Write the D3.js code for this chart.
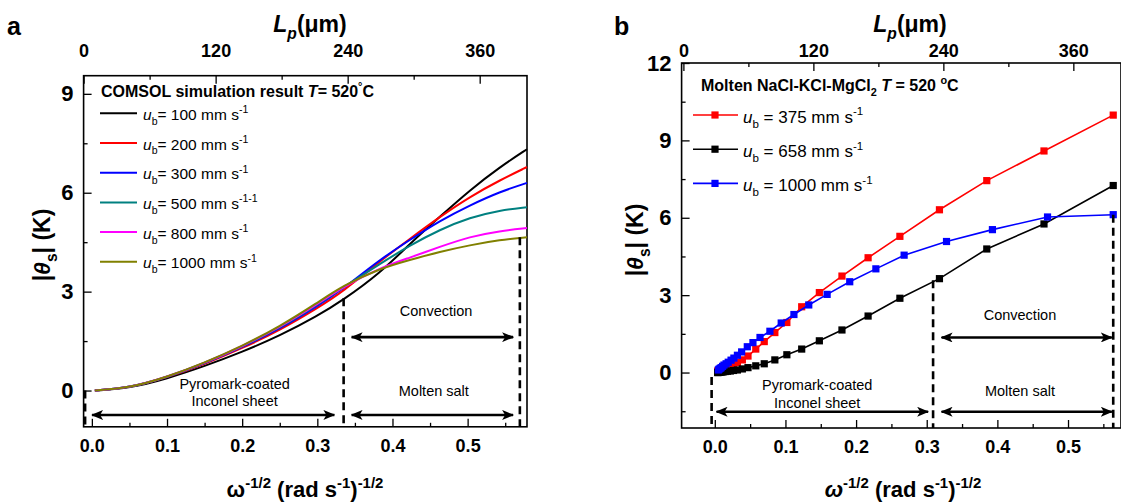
<!DOCTYPE html>
<html>
<head>
<meta charset="utf-8">
<script src="https://cdn.jsdelivr.net/npm/d3@7"></script>
<style>
  body { margin: 0; background: #fff; }
  svg { font-family: Arial, "Liberation Sans", sans-serif; }
</style>
</head>
<body>
<div id="chart"></div>
<script>
// ---- panel a : COMSOL curves ----
var aX     = [0.004, 0.05, 0.1, 0.15, 0.2, 0.25, 0.3, 0.334, 0.383, 0.423, 0.463, 0.503, 0.543, 0.579];
var ub100  = [0, 0.07, 0.36, 0.74, 1.17, 1.66, 2.26, 2.74, 3.55, 4.45, 5.27, 6.08, 6.78, 7.32];
var ub200  = [0, 0.08, 0.39, 0.8, 1.28, 1.83, 2.5, 3.0, 3.92, 4.6, 5.27, 5.88, 6.38, 6.78];
var ub300  = [0, 0.08, 0.4, 0.82, 1.31, 1.87, 2.56, 3.08, 3.97, 4.57, 5.15, 5.62, 6.03, 6.3];
var ub500  = [0, 0.08, 0.4, 0.83, 1.33, 1.9, 2.6, 3.12, 3.84, 4.4, 4.88, 5.25, 5.47, 5.56];
var ub800  = [0, 0.08, 0.41, 0.83, 1.34, 1.92, 2.62, 3.14, 3.72, 4.03, 4.36, 4.67, 4.84, 4.93];
var ub1000 = [0, 0.08, 0.41, 0.84, 1.35, 1.94, 2.66, 3.18, 3.7, 3.96, 4.21, 4.41, 4.57, 4.65];
var aNames  = ["100", "200", "300", "500", "800", "1000"];
var aUnits  = ["-1", "-1", "-1", "-1-1", "-1", "-1"];
var aColors = ["#000000", "#ff0000", "#0000ff", "#008080", "#ff00ff", "#808000"];

// ---- panel b : molten salt measurements ----
var bX = [0.004, 0.0048, 0.0058, 0.007, 0.0085, 0.0102, 0.0124, 0.015, 0.018, 0.022, 0.0265, 0.032, 0.039, 0.047,
          0.058, 0.070, 0.085, 0.102, 0.123, 0.148, 0.180, 0.217, 0.262, 0.318, 0.385, 0.466, 0.564];
var b375 = [0.05, 0.06, 0.08, 0.1, 0.12, 0.14, 0.17, 0.2, 0.23, 0.28, 0.33, 0.39, 0.49, 0.64,
            0.91, 1.2, 1.55, 1.94, 2.55, 3.1, 3.74, 4.45, 5.28, 6.31, 7.44, 8.59, 9.98];
var b658 = [0, 0, 0.01, 0.01, 0.02, 0.02, 0.03, 0.04, 0.05, 0.06, 0.08, 0.1, 0.14, 0.19,
            0.26, 0.34, 0.49, 0.69, 0.91, 1.23, 1.65, 2.19, 2.88, 3.64, 4.79, 5.76, 7.25];
var bX1000 = [0.005, 0.006, 0.0075, 0.009, 0.011, 0.013, 0.016, 0.019, 0.023, 0.027, 0.032, 0.038, 0.046, 0.054,
              0.064, 0.078, 0.094, 0.112, 0.133, 0.159, 0.191, 0.228, 0.268, 0.328, 0.393, 0.471, 0.564];
var b1000 = [0.1, 0.13, 0.16, 0.19, 0.24, 0.29, 0.34, 0.4, 0.48, 0.56, 0.67, 0.8, 1.0, 1.16,
             1.36, 1.6, 1.92, 2.25, 2.62, 3.03, 3.52, 4.02, 4.55, 5.08, 5.54, 6.03, 6.12];
var bNames  = ["375", "658", "1000"];
var bColors = ["#ff0000", "#000000", "#0000ff"];

// ticks
var xMajor = [0, 0.1, 0.2, 0.3, 0.4, 0.5];
var xMinor = [0.05, 0.15, 0.25, 0.35, 0.45, 0.55];
var topMajor = [0, 120, 240, 360];
var topMinor = [60, 180, 300];
var aYMajor = [0, 3, 6, 9];
var aYMinor = [1.5, 4.5, 7.5];
var bYMajor = [0, 3, 6, 9, 12];
var bYMinor = [-1.5, 1.5, 4.5, 7.5, 10.5];

var width = 1121, height = 503;
var FONT = "Arial, 'Liberation Sans', sans-serif";

var svg = d3.select("#chart").append("svg")
  .attr("width", width)
  .attr("height", height);

var defs = svg.append("defs");
defs.append("marker")
  .attr("id", "head")
  .attr("markerUnits", "userSpaceOnUse")
  .attr("viewBox", "0 0 12 10")
  .attr("refX", 11).attr("refY", 5)
  .attr("markerWidth", 12).attr("markerHeight", 10)
  .attr("orient", "auto-start-reverse")
  .append("path")
  .attr("d", "M0,0 L12,5 L0,10 L3,5 z")
  .attr("fill", "black");

// text with sup / sub / italic pieces
function rich(g, x, y, size, parts, anchor, weight) {
  var t = g.append("text")
    .attr("x", x).attr("y", y)
    .attr("font-size", size)
    .attr("font-weight", weight || "normal")
    .attr("text-anchor", anchor || "start");
  var cur = 0;
  parts.forEach(function(p) {
    var shift = p.sup ? -0.42 * size : (p.sub ? 0.32 * size : 0);
    var ts = t.append("tspan").text(p.t).attr("dy", shift - cur);
    cur = shift;
    if (p.sup || p.sub) ts.attr("font-size", size * 0.68);
    if (p.it) ts.attr("font-style", "italic");
  });
  return t;
}

function frame(g, x, y, top, yMajor, yMinor) {
  var r = x.range(), b = y.range();
  var bottom = g.append("g").attr("transform", "translate(0," + b[0] + ")");
  bottom.call(d3.axisBottom(x).tickValues(xMajor).tickSize(-8).tickPadding(12).tickFormat(d3.format(".1f")));
  bottom.append("g").call(d3.axisBottom(x).tickValues(xMinor).tickSize(-4).tickFormat(""));
  var tp = g.append("g").attr("transform", "translate(0," + b[1] + ")");
  tp.call(d3.axisTop(top).tickValues(topMajor).tickSize(-8).tickPadding(top.pad));
  tp.append("g").call(d3.axisTop(top).tickValues(topMinor).tickSize(-4).tickFormat(""));
  var left = g.append("g").attr("transform", "translate(" + r[0] + ",0)");
  left.call(d3.axisLeft(y).tickValues(yMajor).tickSize(-8).tickPadding(10).tickFormat(d3.format("d")));
  left.append("g").call(d3.axisLeft(y).tickValues(yMinor).tickSize(-4).tickFormat(""));

  g.selectAll(".domain").remove();
  g.selectAll(".tick line").attr("stroke", "black").attr("stroke-width", 1.3);
  bottom.selectAll("text").attr("font-size", 18).attr("font-weight", "bold").attr("font-family", FONT);
  tp.selectAll("text").attr("font-size", 18).attr("font-weight", "bold").attr("font-family", FONT);
  left.selectAll("text").attr("font-size", 22).attr("font-weight", "bold").attr("font-family", FONT);

  g.append("rect")
    .attr("x", r[0]).attr("y", b[1])
    .attr("width", r[1] - r[0]).attr("height", b[0] - b[1])
    .attr("fill", "none").attr("stroke", "black").attr("stroke-width", 1.6);
}

function dashed(g, x1, y1, x2, y2) {
  g.append("line")
    .attr("x1", x1).attr("y1", y1).attr("x2", x2).attr("y2", y2)
    .attr("stroke", "black").attr("stroke-width", 2.6)
    .attr("stroke-dasharray", "8,5");
}

function arrow(g, x1, x2, yy) {
  g.append("line")
    .attr("x1", x1).attr("y1", yy).attr("x2", x2).attr("y2", yy)
    .attr("stroke", "black").attr("stroke-width", 2.6)
    .attr("marker-start", "url(#head)").attr("marker-end", "url(#head)");
}

function note(g, x, y, s) {
  g.append("text").attr("x", x).attr("y", y)
    .attr("text-anchor", "middle").attr("font-size", 14.5).text(s);
}

// ================= panel a =================
var ga = svg.append("g");
var xA = d3.scaleLinear().domain([-0.011, 0.579]).range([83.6, 527]);
var yA = d3.scaleLinear().domain([-1.1, 9.55]).range([426.8, 75.7]);
var topA = d3.scaleLinear().domain([0, 403]).range([83.6, 527]);
topA.pad = 19;

frame(ga, xA, yA, topA, aYMajor, aYMinor);

var aSeries = [ub100, ub200, ub300, ub500, ub800, ub1000];
var lineA = d3.line().curve(d3.curveBasis)
  .x(function(d) { return xA(d[0]); })
  .y(function(d) { return yA(d[1]); });

aSeries.forEach(function(s, i) {
  ga.append("path")
    .datum(aX.map(function(x, j) { return [x, s[j]]; }))
    .attr("fill", "none")
    .attr("stroke", aColors[i])
    .attr("stroke-width", 2)
    .attr("d", lineA);
});

// annotations a
dashed(ga, xA(-0.009), yA(0), xA(-0.009), yA(-1.1));
dashed(ga, xA(0.335), yA(2.8), xA(0.335), yA(-1.1));
dashed(ga, xA(0.5695), yA(4.65), xA(0.5695), yA(-1.1));
arrow(ga, xA(0.0003), xA(0.3227), yA(-0.74));
arrow(ga, xA(0.3456), xA(0.5605), yA(1.62));
arrow(ga, xA(0.3456), xA(0.5605), yA(-0.74));
note(ga, xA(0.458), yA(2.26), "Convection");
note(ga, xA(0.455), yA(-0.16), "Molten salt");
note(ga, xA(0.19), yA(0.06), "Pyromark-coated");
note(ga, xA(0.19), yA(-0.46), "Inconel sheet");

// legend a
rich(ga, 101, 97, 16, [{t: "COMSOL simulation result  "}, {t: "T", it: true}, {t: "= 520"}, {t: "°", sup: true}, {t: "C"}], "start", "bold");
aNames.forEach(function(n, i) {
  var ly = 113.3 + i * 29.7;
  ga.append("line").attr("x1", 100).attr("x2", 137).attr("y1", ly).attr("y2", ly)
    .attr("stroke", aColors[i]).attr("stroke-width", 2);
  rich(ga, 143, ly + 6.5, 15.5, [{t: "u", it: true}, {t: "b", sub: true}, {t: "= " + n + " mm s"}, {t: aUnits[i], sup: true}]);
});

// titles a
ga.append("text").attr("x", 7).attr("y", 35).attr("font-size", 25).attr("font-weight", "bold").text("a");
rich(ga, 310, 32, 23, [{t: "L", it: true}, {t: "p", sub: true, it: true}, {t: "(μm)"}], "middle", "bold");
rich(ga, 305, 497, 22, [{t: "ω"}, {t: "-1/2", sup: true}, {t: " (rad s"}, {t: "-1", sup: true}, {t: ")"}, {t: "-1/2", sup: true}], "middle", "bold");
rich(ga, 0, 0, 23, [{t: "|"}, {t: "θ", it: true}, {t: "s", sub: true}, {t: "| (K)"}], "middle", "bold")
  .attr("transform", "translate(50,245) rotate(-90)");

// ================= panel b =================
var gb = svg.append("g");
var xB = d3.scaleLinear().domain([-0.047, 0.575]).range([681.6, 1121]);
var yB = d3.scaleLinear().domain([-2.15, 12]).range([428, 63]);
var topB = d3.scaleLinear().domain([-1.66, 404]).range([681.6, 1121]);
topB.pad = 6;

frame(gb, xB, yB, topB, bYMajor, bYMinor);

var bSets = [[bX, b375], [bX, b658], [bX1000, b1000]];
var lineB = d3.line()
  .x(function(d) { return xB(d[0]); })
  .y(function(d) { return yB(d[1]); });

bSets.forEach(function(s, i) {
  var pts = s[0].map(function(x, j) { return [x, s[1][j]]; });
  gb.append("path").datum(pts)
    .attr("fill", "none").attr("stroke", bColors[i]).attr("stroke-width", 1.6)
    .attr("d", lineB);
  gb.selectAll(".m" + i).data(pts).enter().append("rect")
    .attr("x", function(d) { return xB(d[0]) - 3.6; })
    .attr("y", function(d) { return yB(d[1]) - 3.6; })
    .attr("width", 7.2).attr("height", 7.2)
    .attr("fill", bColors[i]);
});

// annotations b
dashed(gb, xB(-0.0045), yB(-0.17), xB(-0.0045), yB(-2.15));
dashed(gb, xB(0.309), yB(3.58), xB(0.309), yB(-2.15));
dashed(gb, xB(0.564), yB(6.12), xB(0.564), yB(-2.15));
arrow(gb, xB(0.0025), xB(0.302), yB(-1.52));
arrow(gb, xB(0.321), xB(0.562), yB(1.36));
arrow(gb, xB(0.321), xB(0.562), yB(-1.52));
note(gb, xB(0.432), yB(2.02), "Convection");
note(gb, xB(0.432), yB(-0.91), "Molten salt");
note(gb, xB(0.145), yB(-0.68), "Pyromark-coated");
note(gb, xB(0.145), yB(-1.38), "Inconel sheet");

// legend b
rich(gb, 701, 91, 16, [{t: "Molten NaCl-KCl-MgCl"}, {t: "2", sub: true}, {t: "  "}, {t: "T", it: true}, {t: " = 520 "}, {t: "o", sup: true}, {t: "C"}], "start", "bold");
bNames.forEach(function(n, i) {
  var ly = 115 + i * 34.2;
  gb.append("line").attr("x1", 693).attr("x2", 738).attr("y1", ly).attr("y2", ly)
    .attr("stroke", bColors[i]).attr("stroke-width", 1.6);
  gb.append("rect").attr("x", 715 - 3.6).attr("y", ly - 3.6).attr("width", 7.2).attr("height", 7.2)
    .attr("fill", bColors[i]);
  rich(gb, 743, ly + 7.5, 17, [{t: "u", it: true}, {t: "b", sub: true}, {t: " = " + n + " mm s"}, {t: "-1", sup: true}]);
});

// titles b
gb.append("text").attr("x", 614).attr("y", 35).attr("font-size", 25).attr("font-weight", "bold").text("b");
rich(gb, 910, 32, 23, [{t: "L", it: true}, {t: "p", sub: true, it: true}, {t: "(μm)"}], "middle", "bold");
rich(gb, 903, 497, 22, [{t: "ω", it: true}, {t: "-1/2", sup: true}, {t: " (rad s"}, {t: "-1", sup: true}, {t: ")"}, {t: "-1/2", sup: true}], "middle", "bold");
rich(gb, 0, 0, 23, [{t: "|"}, {t: "θ", it: true}, {t: "s", sub: true}, {t: "| (K)"}], "middle", "bold")
  .attr("transform", "translate(643,240) rotate(-90)");
</script>
</body>
</html>
